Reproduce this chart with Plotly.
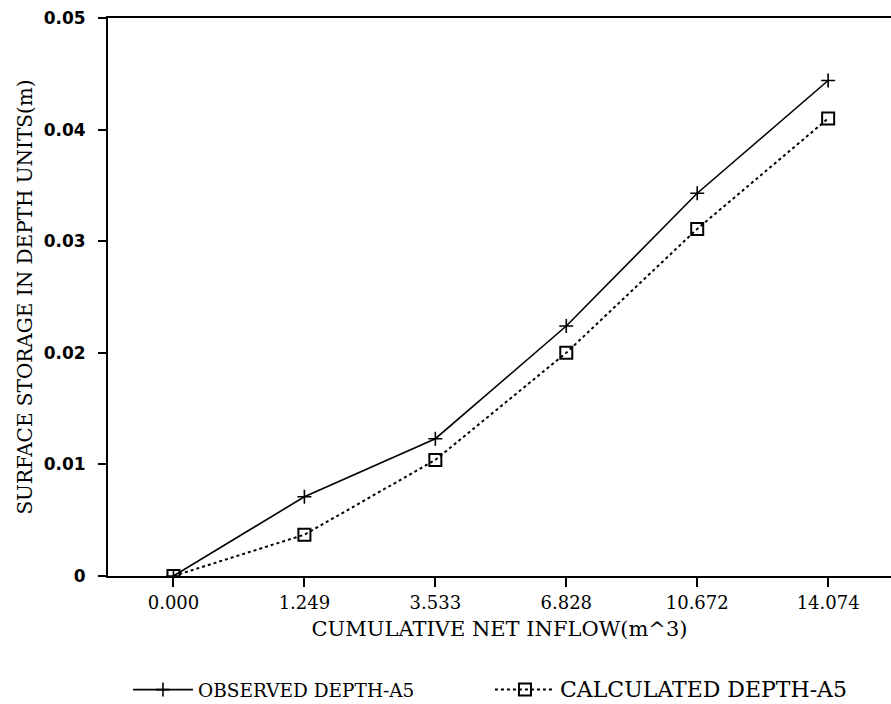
import plotly.graph_objects as go

# Cumulative net inflow (m^3) used as categorical tick labels
inflow_labels = ["0.000", "1.249", "3.533", "6.828", "10.672", "14.074"]

# Surface storage in depth units (m)
observed_depth = [0.0, 0.0071, 0.0123, 0.0224, 0.0343, 0.0444]
calculated_depth = [0.0, 0.0037, 0.0104, 0.0200, 0.0311, 0.0410]

y_ticks = [0, 0.01, 0.02, 0.03, 0.04, 0.05]
y_tick_text = ["0", "0.01", "0.02", "0.03", "0.04", "0.05"]

x_idx = list(range(len(inflow_labels)))
serif = "DejaVu Serif"
sans = "DejaVu Sans"

fig = go.Figure()
fig.add_trace(go.Scatter(
    x=x_idx, y=observed_depth,
    name="<span style='font-size:18.5px'>OBSERVED DEPTH-A5</span>",
    mode="lines+markers",
    line=dict(color="black", width=1.6),
    marker=dict(symbol="cross-thin", size=10, color="black",
                line=dict(color="black", width=1.6)),
))
fig.add_trace(go.Scatter(
    x=x_idx, y=calculated_depth,
    name="<span style='font-size:22px'>CALCULATED DEPTH-A5</span>",
    mode="lines+markers",
    line=dict(color="black", width=2, dash="dot"),
    marker=dict(symbol="square-open", size=12, color="black",
                line=dict(color="black", width=2)),
))

fig.update_layout(
    width=891, height=704,
    margin=dict(l=108, r=0, t=18, b=128, autoexpand=False),
    paper_bgcolor="white", plot_bgcolor="white",
    font=dict(family=serif, size=18, color="black"),
    showlegend=True,
    legend=dict(orientation="h", x=0.0255, xanchor="left",
                yref="container", y=0.02, yanchor="middle",
                font=dict(family=serif, size=18, color="black"),
                itemwidth=60, entrywidth=287, entrywidthmode="pixels"),
)

fig.update_xaxes(
    range=[-0.5, 5.48],
    tickmode="array", tickvals=x_idx, ticktext=inflow_labels,
    tickfont=dict(family=serif, size=18, color="black"),
    ticks="outside", ticklen=9, tickwidth=1.5, tickcolor="black",
    showline=True, linecolor="black", linewidth=2, mirror=True,
    showgrid=False, zeroline=False,
    title=dict(text="CUMULATIVE NET INFLOW(m^3)", standoff=10,
               font=dict(family=serif, size=21, color="black")),
)
fig.update_yaxes(
    range=[0, 0.05],
    tickmode="array", tickvals=y_ticks, ticktext=y_tick_text,
    tickfont=dict(family=sans, size=17, color="black", weight="bold"),
    ticks="outside", ticklen=8, tickwidth=1.5, tickcolor="black",
    ticklabelstandoff=9,
    showline=True, linecolor="black", linewidth=2, mirror=False,
    showgrid=False, zeroline=False,
    title=dict(text="SURFACE STORAGE IN DEPTH UNITS(m)", standoff=6,
               font=dict(family=serif, size=20, color="black")),
)

fig.write_html("out.html")
